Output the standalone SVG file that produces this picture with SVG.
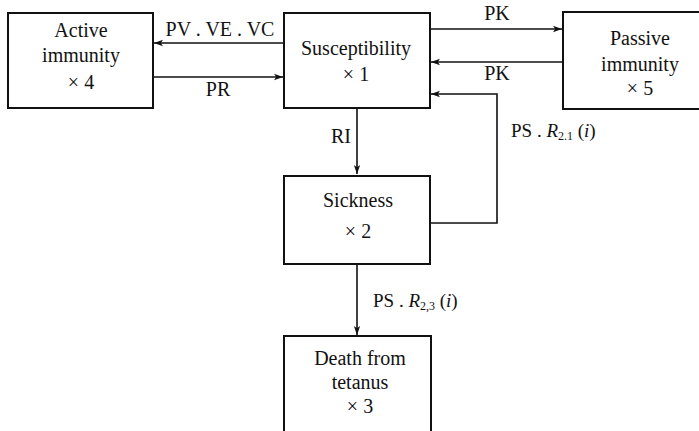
<svg xmlns="http://www.w3.org/2000/svg" width="699" height="431" viewBox="0 0 699 431">
<defs>
<style>
.box{fill:#fff;stroke:#111;stroke-width:2}
.c{fill:none;stroke:#111;stroke-width:1.6}
.t{font-family:'Liberation Serif',serif;font-size:20px;fill:#111;text-anchor:middle}
.l{font-family:'Liberation Serif',serif;font-size:19px;fill:#111}
.sub{font-size:12px}
</style>
<marker id="ah" viewBox="0 0 10 10" refX="10" refY="5" markerWidth="9" markerHeight="9" markerUnits="userSpaceOnUse" orient="auto">
<path d="M0,1.5 L10,5 L0,8.5 L2.5,5 Z" fill="#111"/>
</marker>
</defs>
<rect width="699" height="431" fill="#fff"/>
<g id="connectors">
<line class="c" x1="284" y1="43" x2="154" y2="43" marker-end="url(#ah)"/>
<line class="c" x1="153" y1="77" x2="283" y2="77" marker-end="url(#ah)"/>
<line class="c" x1="430" y1="29" x2="562" y2="29" marker-end="url(#ah)"/>
<line class="c" x1="563" y1="62" x2="431" y2="62" marker-end="url(#ah)"/>
<polyline class="c" points="430,223 497,223 497,94 431,94" marker-end="url(#ah)"/>
<line class="c" x1="357" y1="108" x2="357" y2="174" marker-end="url(#ah)"/>
<line class="c" x1="357" y1="264" x2="357" y2="335" marker-end="url(#ah)"/>
<text class="t" x="220" y="36">PV . VE . VC</text>
<text class="t" x="218" y="96">PR</text>
<text class="t" x="497" y="20">PK</text>
<text class="t" x="497" y="80">PK</text>
<text class="t" x="341" y="143">RI</text>
<text class="l" x="511" y="137">PS . <tspan font-style="italic">R</tspan><tspan class="sub" dy="3">2.1</tspan><tspan dy="-3"> (<tspan font-style="italic">i</tspan>)</tspan></text>
<text class="l" x="373" y="307">PS . <tspan font-style="italic">R</tspan><tspan class="sub" dy="3">2,3</tspan><tspan dy="-3"> (<tspan font-style="italic">i</tspan>)</tspan></text>
</g>
<g id="active">
<rect class="box" x="8" y="13" width="145" height="95"/>
<text class="t" x="81" y="37">Active</text>
<text class="t" x="81" y="62">immunity</text>
<text class="t" x="81" y="89">× 4</text>
</g>
<g id="susceptibility">
<rect class="box" x="284" y="13" width="146" height="95"/>
<text class="t" x="356" y="55">Susceptibility</text>
<text class="t" x="356" y="81">× 1</text>
</g>
<g id="passive">
<rect class="box" x="563" y="12" width="150" height="97"/>
<text class="t" x="640" y="45">Passive</text>
<text class="t" x="640" y="71">immunity</text>
<text class="t" x="640" y="95">× 5</text>
</g>
<g id="sickness">
<rect class="box" x="284" y="176" width="146" height="88"/>
<text class="t" x="358" y="207">Sickness</text>
<text class="t" x="358" y="238">× 2</text>
</g>
<g id="death">
<rect class="box" x="284" y="336" width="147" height="110"/>
<text class="t" x="360" y="365">Death from</text>
<text class="t" x="360" y="389">tetanus</text>
<text class="t" x="360" y="413">× 3</text>
</g>
</svg>
